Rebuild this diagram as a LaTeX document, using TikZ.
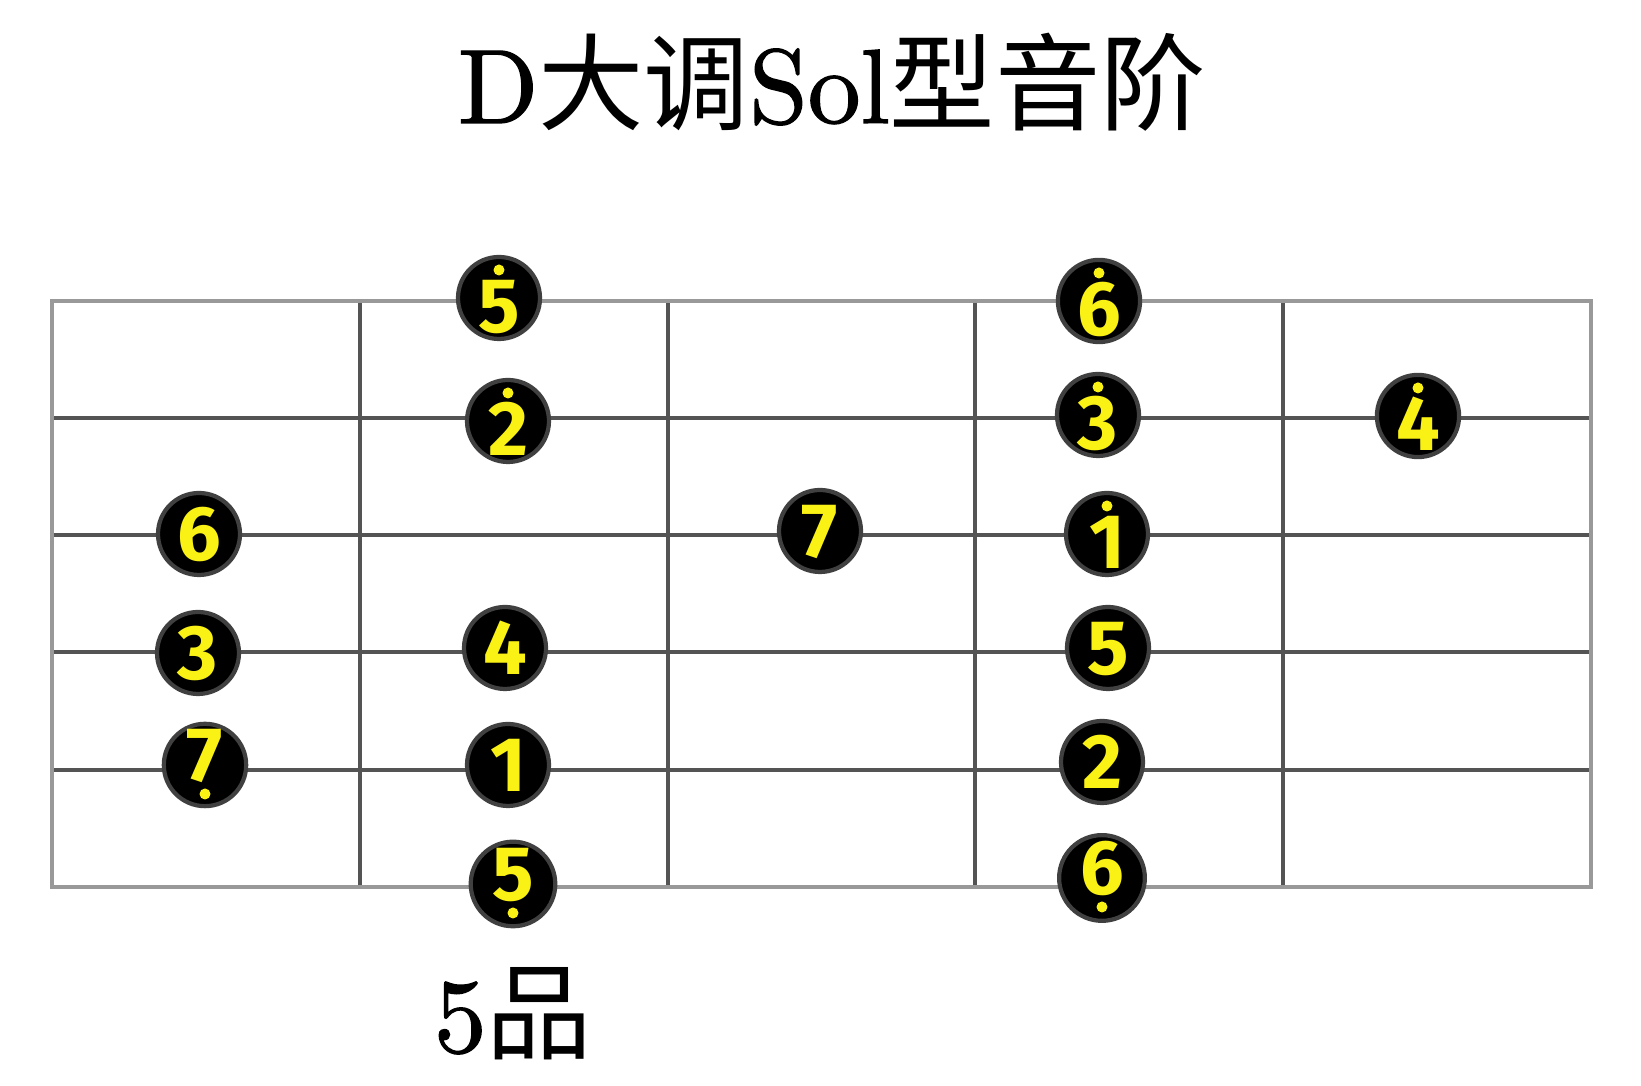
\documentclass[tikz,border=0pt]{standalone}
\usepackage{fontspec}
\usepackage{tikz}
\newfontfamily\cjk{Noto Sans CJK SC}
\newfontfamily\digitfont{Fira Sans}
\newfontfamily\titlefont{lmroman10-regular.otf}[FakeBold=1.2]
\definecolor{digitclr}{rgb}{0.98, 0.95, 0.08}
\definecolor{rimclr}{rgb}{0.6, 0.6, 0.6}
\definecolor{lineclr}{rgb}{0.33, 0.33, 0.33}
\tikzset{ %
  ,note/.style={draw=black!75, line width=1.2pt, circle, inner sep=0, minimum size=0.82cm, fill=black, text=digitclr, font=\digitfont\bfseries\fontsize{22}{22}\selectfont, text height=0.54cm, text depth=0cm}
  ,octdot/.style={fill=digitclr, circle, inner sep=0, minimum size=0.11cm}
  ,hi/.style={note, text height=0.7cm, label={[octdot, yshift=0.28cm]center:{}}}
  ,lo/.style={note, text depth=0.2cm, label={[octdot, yshift=-0.29cm]center:{}}}
  ,string/.style={draw=lineclr, line width=0.9pt}
  ,rim/.style={draw=rimclr, line width=1.1pt}
  ,big/.style={font=\titlefont\fontsize{30}{36}\selectfont, anchor=base, inner sep=0}
}
\begin{document}
\begin{tikzpicture}
      \useasboundingbox (0,0) rectangle (16.41,10.86);
      % strings and frets
      \draw[string] (0.52,6.68) -- (15.91,6.68) (0.52,5.51) -- (15.91,5.51)
        (0.52,4.34) -- (15.91,4.34) (0.52,3.16) -- (15.91,3.16);
      \draw[string] (3.60,1.99) -- (3.60,7.85) (6.68,1.99) -- (6.68,7.85)
        (9.75,1.99) -- (9.75,7.85) (12.83,1.99) -- (12.83,7.85);
      \draw[rim] (0.52,1.99) rectangle (15.91,7.85);
      % titles
      \node[big] (title) at (8.32,9.63) {D{\cjk 大调}Sol{\cjk 型音阶}};
      \node[big] (fret) at (5.13,0.34) {5{\cjk 品}};
      % notes
      \draw
      node[note] (A6) at (1.99,5.52) {6}
      node[note] (A3) at (1.98,4.33) {3}
      node[lo] (A7) at (2.05,3.21) {7}
      node[hi] (B5) at (4.99,7.88) {5}
      node[hi] (B2) at (5.08,6.65) {2}
      node[note] (B4) at (5.05,4.38) {4}
      node[note] (B1) at (5.08,3.21) {1}
      node[lo] (B5l) at (5.13,2.02) {5}
      node[note] (C7) at (8.20,5.55) {7}
      node[hi] (D6) at (10.99,7.85) {6}
      node[hi] (D3) at (10.98,6.71) {3}
      node[hi] (D1) at (11.07,5.52) {1}
      node[note] (D5) at (11.08,4.38) {5}
      node[note] (D2) at (11.02,3.24) {2}
      node[lo] (D6l) at (11.02,2.08) {6}
      node[hi] (E4) at (14.18,6.70) {4};
    \end{tikzpicture}
\end{document}
